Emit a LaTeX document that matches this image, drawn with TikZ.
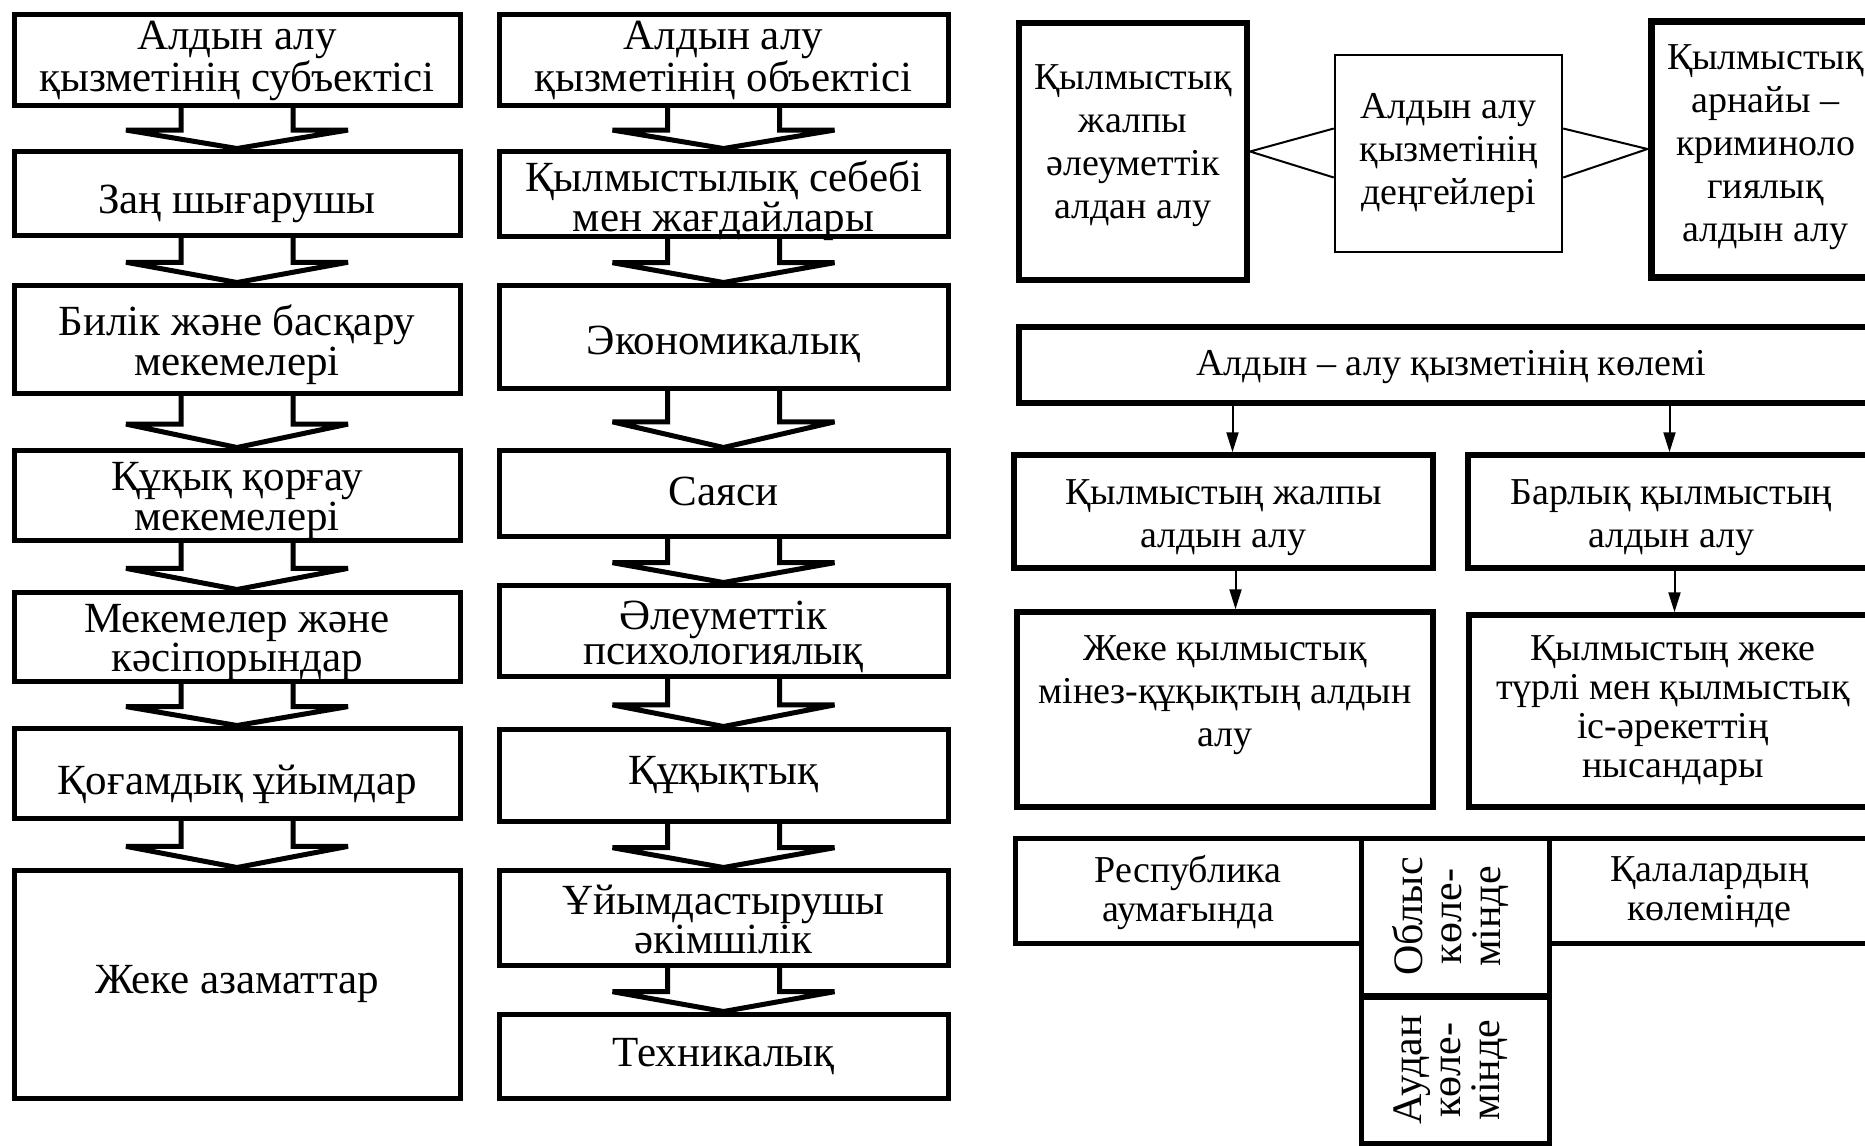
\documentclass[tikz,border=0pt]{standalone}
\usepackage{fontspec}
\setmainfont{Liberation Serif}
\usetikzlibrary{calc,arrows.meta}
\newcommand\blockarr[2]{%
  \coordinate (#1m) at ($(#1.south)!0.55!(#2.north)$);
  \draw[barrow] ($(#1.south)+(-56,0)$) -- ($(#1m)+(-56,0)$) -- ($(#1m)+(-111,0)$)
     -- (#2.north) -- ($(#1m)+(111,0)$) -- ($(#1m)+(56,0)$) -- ($(#1.south)+(56,0)$);}
% text of a box: style, box name, vertical shift, text
\newcommand\boxtext[4]{\node[#1] (#2t) at ([yshift=#3]#2.center) {#4};}
\begin{document}
\begin{tikzpicture}[x=0.5pt,y=-0.5pt,
  box/.style={draw, line width=2.5pt, inner sep=0pt},
  lcol/.style={box, minimum width=223pt},
  mcol/.style={box, minimum width=224.5pt},
  ltext/.style={align=center, inner sep=0pt, font=\fontsize{21.5}{17.5}\selectfont},
  rbox/.style={draw, line width=2.75pt, inner sep=0pt},
  rtext/.style={align=center, inner sep=0pt, font=\fontsize{19}{21.5}\selectfont},
  rtextb/.style={align=center, inner sep=0pt, font=\fontsize{19}{19.5}\selectfont},
  thinbox/.style={rbox, line width=1.2pt},
  barrow/.style={draw, line width=2.5pt, miter limit=2},
  conn/.style={line width=1pt},
  arr/.style={line width=1pt, -{Triangle[length=10pt,width=6pt]}},
  vtext/.style={rotate=90, align=center, inner sep=0pt, font=\fontsize{21}{19.5}\selectfont}]
\useasboundingbox (0,0) rectangle (1865,1146);
\clip (0,0) rectangle (1865,1146);
\fill[white] (0,0) rectangle (1865,1146);

% left column
\node[lcol, minimum height=45.5pt] (L1) at (237,59.5) {};
\node[lcol, minimum height=42pt]   (L2) at (237,193)  {};
\node[lcol, minimum height=54pt]   (L3) at (237,339)  {};
\node[lcol, minimum height=45pt]   (L4) at (237,495)  {};
\node[lcol, minimum height=44.5pt] (L5) at (237,636.5) {};
\node[lcol, minimum height=45pt]   (L6) at (237,773)  {};
\node[lcol, minimum height=114pt]  (L7) at (237,984)  {};
\boxtext{ltext}{L1}{-0.5pt}{Алдын алу\\қызметінің субъектісі}
\boxtext{ltext}{L2}{-5.5pt}{Заң шығарушы}
\boxtext{ltext}{L3}{-3pt}{Билік және басқару\\мекемелері}
\boxtext{ltext}{L4}{-3pt}{Құқық қорғау\\мекемелері}
\boxtext{ltext}{L5}{-3pt}{Мекемелер және\\кәсіпорындар}
\boxtext{ltext}{L6}{-5.5pt}{Қоғамдық ұйымдар}
\boxtext{ltext}{L7}{0pt}{Жеке азаматтар}
\blockarr{L1}{L2}
\blockarr{L2}{L3}
\blockarr{L3}{L4}
\blockarr{L4}{L5}
\blockarr{L5}{L6}
\blockarr{L6}{L7}

% middle column
\node[mcol, minimum height=45.5pt] (M1) at (723.5,59.5)  {};
\node[mcol, minimum height=42.5pt] (M2) at (723.5,193.5) {};
\node[mcol, minimum height=51.5pt] (M3) at (723.5,336.5) {};
\node[mcol, minimum height=43pt]   (M4) at (723.5,493)   {};
\node[mcol, minimum height=45.5pt] (M5) at (723.5,630.5) {};
\node[mcol, minimum height=46pt]   (M6) at (723.5,775)   {};
\node[mcol, minimum height=47.5pt] (M7) at (723.5,917.5) {};
\node[mcol, minimum height=42pt]   (M8) at (723.5,1056)  {};
\boxtext{ltext}{M1}{-0.5pt}{Алдын алу\\қызметінің объектісі}
\boxtext{ltext}{M2}{-3.5pt}{Қылмыстылық себебі\\мен жағдайлары}
\boxtext{ltext}{M3}{-4pt}{Экономикалық}
\boxtext{ltext}{M4}{1pt}{Саяси}
\boxtext{ltext}{M5}{-3pt}{Әлеуметтік\\психологиялық}
\boxtext{ltext}{M6}{0pt}{Құқықтық}
\boxtext{ltext}{M7}{-1pt}{Ұйымдастырушы\\әкімшілік}
\boxtext{ltext}{M8}{-0.5pt}{Техникалық}
\blockarr{M1}{M2}
\blockarr{M2}{M3}
\blockarr{M3}{M4}
\blockarr{M4}{M5}
\blockarr{M5}{M6}
\blockarr{M6}{M7}
\blockarr{M7}{M8}

% right top: levels
\node[rbox, line width=3pt, minimum width=114pt, minimum height=128.5pt] (R1) at (1133,151.5) {};
\node[thinbox, minimum width=113.5pt, minimum height=98.5pt] (R2) at (1448.5,153.5) {};
\node[rbox, line width=3.5pt, minimum width=114.5pt, minimum height=128pt] (R3) at (1765.5,149) {};
\boxtext{rtext}{R1}{3pt}{Қылмыстық\\жалпы\\әлеуметтік\\алдан алу}
\boxtext{rtext}{R2}{0.5pt}{Алдын алу\\қызметінің\\деңгейлері}
\boxtext{rtext}{R3}{1pt}{Қылмыстық\\арнайы –\\криминоло\\гиялық\\алдын алу}
\draw[conn] ($(R2.west)+(0,-25)$) -- (R1.east) -- ($(R2.west)+(0,24)$);
\draw[conn] ($(R2.east)+(0,-25)$) -- (R3.west) -- ($(R2.east)+(0,24)$);

% right middle: volume
\node[rbox, minimum width=432pt, minimum height=38pt] (V) at (1451,365) {};
\node[rbox, minimum width=209.5pt, minimum height=56.5pt] (A1) at (1223.5,511.5) {};
\node[rbox, minimum width=203.5pt, minimum height=56.5pt] (A2) at (1671.5,511.5) {};
\node[rbox, minimum width=208pt, minimum height=97.5pt] (B1) at (1225,709.5) {};
\node[rbox, minimum width=204pt, minimum height=96pt] (B2) at (1673,711) {};
\boxtext{rtext}{V}{-1pt}{Алдын – алу қызметінің көлемі}
\boxtext{rtext}{A1}{-3pt}{Қылмыстың жалпы\\алдын алу}
\boxtext{rtext}{A2}{-3pt}{Барлық қылмыстың\\алдын алу}
\boxtext{rtext}{B1}{7pt}{Жеке қылмыстық\\мінез-құқықтың алдын\\алу}
\boxtext{rtextb}{B2}{0pt}{Қылмыстың жеке\\түрлі мен қылмыстық\\іс-әрекеттің\\нысандары}
\draw[arr] ($(V.south -| A1.north)+(9,0)$) -- ($(A1.north)+(9,0)$);
\draw[arr] ($(V.south -| A2.north)+(-2,0)$) -- ($(A2.north)+(-2,0)$);
\draw[arr] ($(A1.south)+(12,0)$) -- ($(B1.north -| A1.south)+(12,0)$);
\draw[arr] ($(A2.south)+(3,0)$) -- ($(B2.north -| A2.south)+(3,0)$);

% right bottom: territory
\node[rbox, line width=2.5pt, minimum width=173pt, minimum height=52.5pt] (P) at (1188,890.5) {};
\node[rbox, line width=2.5pt, minimum width=94pt, minimum height=78.5pt] (O) at (1455,916.5) {};
\node[rbox, line width=2.5pt, minimum width=160.5pt, minimum height=52.5pt] (K) at (1709.5,890.5) {};
\node[rbox, line width=2.5pt, minimum width=94pt, minimum height=73pt] (D) at (1455,1070) {};
\boxtext{rtextb}{P}{-1pt}{Республика\\аумағында}
\boxtext{rtextb}{K}{-1pt}{Қалалардың\\көлемінде}
\node[vtext] (Ot) at ([xshift=-2pt]O.center) {Облыс\\көле-\\мінде};
\node[vtext] (Dt) at ([xshift=-2pt]D.center) {Аудан\\көле-\\мінде};
\end{tikzpicture}
\end{document}
